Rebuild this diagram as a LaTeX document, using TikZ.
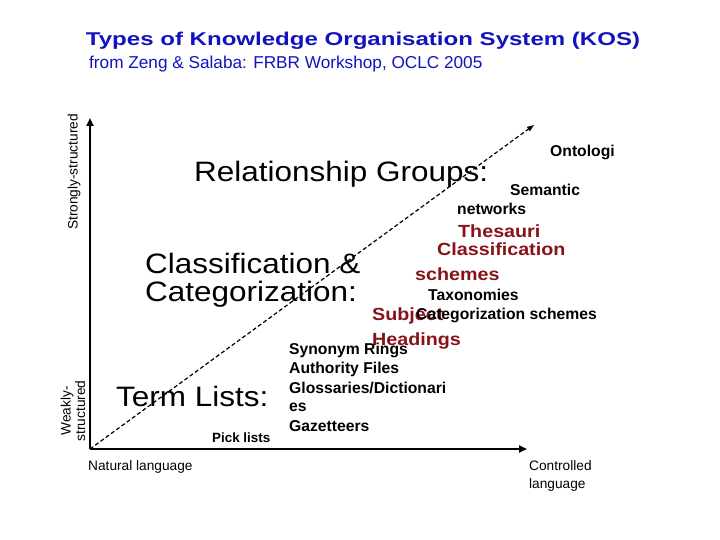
\documentclass[tikz,border=0pt]{standalone}
\usepackage{fontspec}
\setmainfont{Liberation Sans}
\newfontfamily\widefont[FakeStretch=1.12]{Liberation Sans}
\newfontfamily\titlefont[FakeStretch=1.3]{Liberation Sans}
\usetikzlibrary{arrows.meta,positioning}
\definecolor{kosblue}{RGB}{18,18,190}
\definecolor{kosred}{RGB}{135,18,24}

\begin{document}
\begin{tikzpicture}[x=1pt,y=-1pt,>={Triangle[length=8pt,width=7pt]},
big/.style={inner sep=0pt,anchor=base west,font=\widefont\fontsize{28.1}{30}\selectfont},
kind/.style={inner sep=0pt,anchor=west,font=\fontsize{15.7}{18}\selectfont\bfseries},
kindred/.style={kind,text=kosred,font=\widefont\fontsize{17.6}{21}\selectfont\bfseries},
axislabel/.style={inner sep=0pt,anchor=north west,font=\fontsize{13.7}{18}\selectfont,align=left},
sidelabel/.style={rotate=90,inner sep=0pt,align=center,font=\fontsize{13.7}{14.5}\selectfont}]
\useasboundingbox (0,0) rectangle (720,540);
\node[text=kosblue,inner sep=0pt,anchor=base,font=\titlefont\fontsize{18.5}{22}\selectfont\bfseries] (title) at (363,46) {Types of Knowledge Organisation System (KOS)};
\node[text=kosblue,inner sep=0pt,anchor=base west,font=\fontsize{17.2}{20}\selectfont] (source) at (89,69) {from Zeng \& Salaba: FRBR Workshop, OCLC 2005};
% axes
\coordinate (origin) at (90,449);
\coordinate (ytop) at (90,118);
\coordinate (xend) at (527,449);
\coordinate (diag) at (534,125);
\draw[line width=2pt,->] (origin)--(ytop);
\draw[line width=2pt,->] (origin)--(xend);
\draw[line width=1.2pt,dash pattern=on 4pt off 2.5pt,-{Triangle[length=7pt,width=5pt]}] (origin)--(diag);
\node[sidelabel] (strong) at (74,172) {Strongly-structured};
\node[sidelabel] (weak) at (73,411) {Weakly-\\structured};
\node[axislabel] (natural) at (88,460) {Natural language};
\node[axislabel] (controlled) at (529,460) {Controlled\\language};
% groups
\node[big] (relation) at (194,182) {Relationship Groups:};
\node[big] (classif) at (145,273) {Classification \&};
\node[big] (categ) at (145,301) {Categorization:};
\node[big] (terms) at (116,406) {Term Lists:};
% kinds
\node[kind] (onto) at (550,152) {Ontologi};
\node[kind] (semantic) at (510,190) {Semantic};
\node[kind] (networks) at (457,209) {networks};
\node[kindred] (thesauri) at (458,231) {Thesauri};
\node[kindred] (classsch) at (437,249) {Classification};
\node[kindred] (schemes) at (415,274) {schemes};
\node[kind] (taxo) at (428,295) {Taxonomies};
\node[kindred] (subject) at (372,316) {Subject};
\node[kind] (catschemes) at (416,315) {Categorization schemes};
\node[kindred] (headings) at (372,341) {Headings};
\node[kind] (synonym) at (289,350) {Synonym Rings};
\node[kind] (authority) at (289,369) {Authority Files};
\node[kind] (glossaries) at (289,388) {Glossaries/Dictionari};
\node[kind] (es) at (289,407) {es};
\node[kind] (gazetteers) at (289,426) {Gazetteers};
\node[kind,font=\fontsize{13.4}{15}\selectfont\bfseries] (pick) at (212,438) {Pick lists};
\end{tikzpicture}
\end{document}
